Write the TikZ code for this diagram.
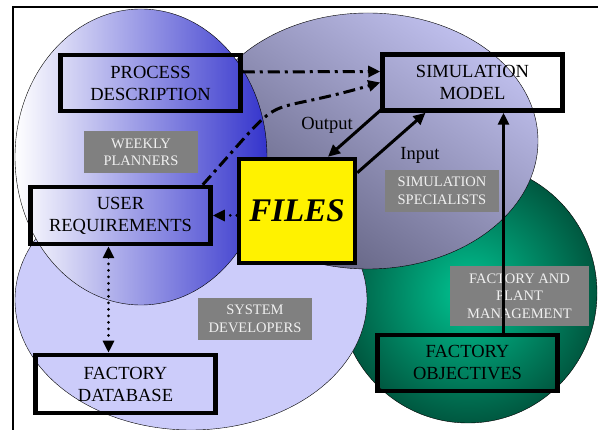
\documentclass[tikz,border=0pt]{standalone}
\usepackage{fontspec}
\setmainfont{Liberation Serif}
\usetikzlibrary{arrows.meta}

\definecolor{planblue}{RGB}{52,52,204}
\definecolor{devlav}{RGB}{204,204,250}
\definecolor{specgray}{RGB}{94,94,124}
\definecolor{speclight}{RGB}{192,192,238}
\definecolor{mgmtgreen}{RGB}{0,196,146}
\definecolor{mgmtdark}{RGB}{0,88,64}
\definecolor{tagfill}{RGB}{128,128,128}
\definecolor{tagtext}{RGB}{240,240,240}

\tikzset{
    groupbox/.style={draw,line width=4.5pt,align=center,inner sep=0pt,
        minimum width=180pt,minimum height=56pt,
        font=\fontsize{18.5}{22}\selectfont},
    tagbox/.style={fill=tagfill,text=tagtext,align=center,inner sep=0pt,
        minimum width=114pt,minimum height=42pt,
        font=\fontsize{14.5}{17.5}\selectfont},
    flow/.style={line width=3pt,->},
    dashdotflow/.style={flow,dash pattern=on 12pt off 5pt on 3pt off 5pt},
    dotflow/.style={flow,line cap=round,dash pattern=on 0pt off 6.5pt},
    >={Triangle[length=12pt,width=11pt]}
}

\begin{document}
\begin{tikzpicture}[x=1pt,y=-1pt]
        \useasboundingbox (0,0) rectangle (598,430);
        % frame
        \draw[line width=1.5pt] (13,430) -- (13,7) -- (598,7);
        % the four groups
        \shade[draw,inner color=mgmtgreen,outer color=mgmtdark] (468,293) ellipse [x radius=129,y radius=130];
        \fill[devlav] (191,300) ellipse [x radius=176,y radius=130];
        \draw[thin] (191,300) ellipse [x radius=176,y radius=130];
        \shade[draw,top color=speclight,bottom color=specgray,shading angle=-35] (368,141) ellipse [x radius=170,y radius=128];
        \shade[draw,left color=white,right color=planblue] (141,157) ellipse [x radius=126,y radius=148];

        % group names
        \node[tagbox] (planners) at (141,152.5) {WEEKLY\\PLANNERS};
        \node[tagbox] (specialists) at (442,191) {SIMULATION\\SPECIALISTS};
        \node[tagbox] (developers) at (255,319) {SYSTEM\\DEVELOPERS};
        \node[tagbox,minimum width=139pt,minimum height=60pt] (management) at (519.5,296) {FACTORY AND\\PLANT\\MANAGEMENT};

        % boxes
        \node[groupbox] (process) at (150.5,83) {PROCESS\\DESCRIPTION};
        \node[groupbox] (simmodel) at (472.5,82.5) {SIMULATION\\MODEL};
        \node[groupbox,minimum height=57pt] (userreq) at (120.5,215.5) {USER\\REQUIREMENTS};
        \node[groupbox,minimum height=58pt] (database) at (125.5,384) {FACTORY\\DATABASE};
        \node[groupbox] (objectives) at (467.5,363) {FACTORY\\OBJECTIVES};
        \node[draw,line width=4.5pt,fill=yellow,inner sep=0pt,minimum width=116pt,minimum height=104pt,
            font=\fontsize{33}{36}\selectfont\bfseries\itshape] (files) at (297,211) {FILES};

        % flows
        \draw[dashdotflow] ([yshift=11pt]process.east) -- ([yshift=11pt]simmodel.west);
        \draw[dashdotflow] ([xshift=-10pt]userreq.north east) to[out=48,in=196,looseness=1.7] (simmodel.west);
        \draw[flow] ([xshift=2pt,yshift=4pt]simmodel.south west) -- ([xshift=31pt]files.north);
        \draw[flow] ([yshift=-16pt]files.north east) -- ([xshift=-47pt]simmodel.south);
        \draw[dotflow] (files.west |- userreq.east) -- (userreq.east);
        \draw[dotflow,<->] ([xshift=-12pt]userreq.south) -- ([xshift=-12pt]userreq.south |- database.north);
        \draw[flow] ([xshift=36pt]objectives.north) -- ([xshift=36pt]objectives.north |- simmodel.south);

        % flow labels
        \node[font=\fontsize{18.5}{22}\selectfont] (outlabel) at (327,125) {Output};
        \node[font=\fontsize{18.5}{22}\selectfont] (inlabel) at (420,155) {Input};
    \end{tikzpicture}
\end{document}
